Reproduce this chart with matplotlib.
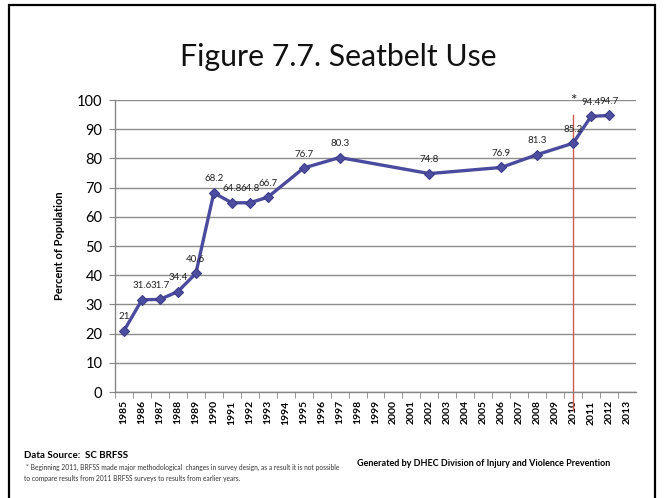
import matplotlib
matplotlib.use("Agg")
import matplotlib.pyplot as plt
from matplotlib.patches import Rectangle

# Seatbelt use, South Carolina BRFSS
years = [1985, 1986, 1987, 1988, 1989, 1990, 1991, 1992, 1993, 1995,
         1997, 2002, 2006, 2008, 2010, 2011, 2012]
values = [21, 31.6, 31.7, 34.4, 40.6, 68.2, 64.8, 64.8, 66.7, 76.7,
          80.3, 74.8, 76.9, 81.3, 85.2, 94.4, 94.7]
axis_years = list(range(1985, 2014))
method_change_year = 2010

FONT = ["Lato", "DejaVu Sans"]
plt.rcParams["font.family"] = FONT

fig = plt.figure(figsize=(6.64, 4.98), dpi=100)
W, H = 664, 498

# outer frame (open at the bottom edge of the page)
fig.patches.append(Rectangle((9 / W, -10 / H), 646 / W, 503 / H,
                             transform=fig.transFigure, fill=False,
                             edgecolor="black", linewidth=1.6))

ax = fig.add_axes([115 / W, 106 / H, 521 / W, 292 / H])

line_color = "#4A4A9E"
ax.plot(years, values, color=line_color, linewidth=2.4, marker="D",
        markersize=5.5, markerfacecolor="#4E4EA0",
        markeredgecolor="#3B3B88", markeredgewidth=0.8, zorder=3)

for x, v in zip(years, values):
    ax.annotate(f"{v:g}", (x, v), xytext=(0, 10), textcoords="offset points",
                ha="center", va="center", fontsize=7, color="#222222",
                zorder=4)

# marker for the 2011 methodology change
ax.plot([method_change_year, method_change_year], [-6.2, 95],
        color="#CF5C52", linewidth=1.0, clip_on=False, zorder=2)
ax.text(method_change_year, 99.5, "*", ha="center", va="center",
        fontsize=11, color="#222222")

ax.set_xlim(1984.5, 2013.5)
ax.set_ylim(0, 100)
ax.set_yticks(range(0, 101, 10))
ax.set_xticks(axis_years)
ax.set_xticklabels([str(y) for y in axis_years], rotation=90,
                   fontsize=7.5, fontweight="bold")
ax.set_xticks([y + 0.5 for y in axis_years[:-1]] + [1984.5], minor=True)
ax.tick_params(axis="x", which="major", length=0, pad=6)
ax.tick_params(axis="x", which="minor", length=4, color="#868686",
               direction="out")
ax.tick_params(axis="y", length=4, color="#868686", labelsize=10.5, pad=5)

ax.grid(axis="y", color="#8C8C8C", linewidth=1.0)
ax.set_axisbelow(True)
for side in ("top", "right"):
    ax.spines[side].set_visible(False)
for side in ("left", "bottom"):
    ax.spines[side].set_color("#868686")
    ax.spines[side].set_linewidth(1.0)

ax.set_ylabel("Percent of Population", fontsize=8, fontweight="bold")
ax.yaxis.set_label_coords(-50 / 521, 0.5)

fig.text(338 / W, 1 - 57 / H, "Figure 7.7. Seatbelt Use", ha="center",
         va="center", fontsize=21.8, color="#111111")

fig.text(24 / W, 1 - 456 / H, "Data Source:  SC BRFSS", ha="left",
         va="center", fontsize=7.0, fontweight="bold")
fig.text(26 / W, 1 - 467 / H,
         "* Beginning 2011, BRFSS made major methodological  changes in survey design, "
         "as a result it is not possible",
         ha="left", va="center", fontsize=4.8, color="#333333")
fig.text(24 / W, 1 - 478 / H,
         "to compare results from 2011 BRFSS surveys to results from earlier years.",
         ha="left", va="center", fontsize=4.8, color="#333333")
fig.text(610 / W, 1 - 463 / H,
         "Generated by DHEC Division of Injury and Violence Prevention",
         ha="right", va="center", fontsize=6.5, fontweight="bold")

fig.savefig("out.png", dpi=100)
